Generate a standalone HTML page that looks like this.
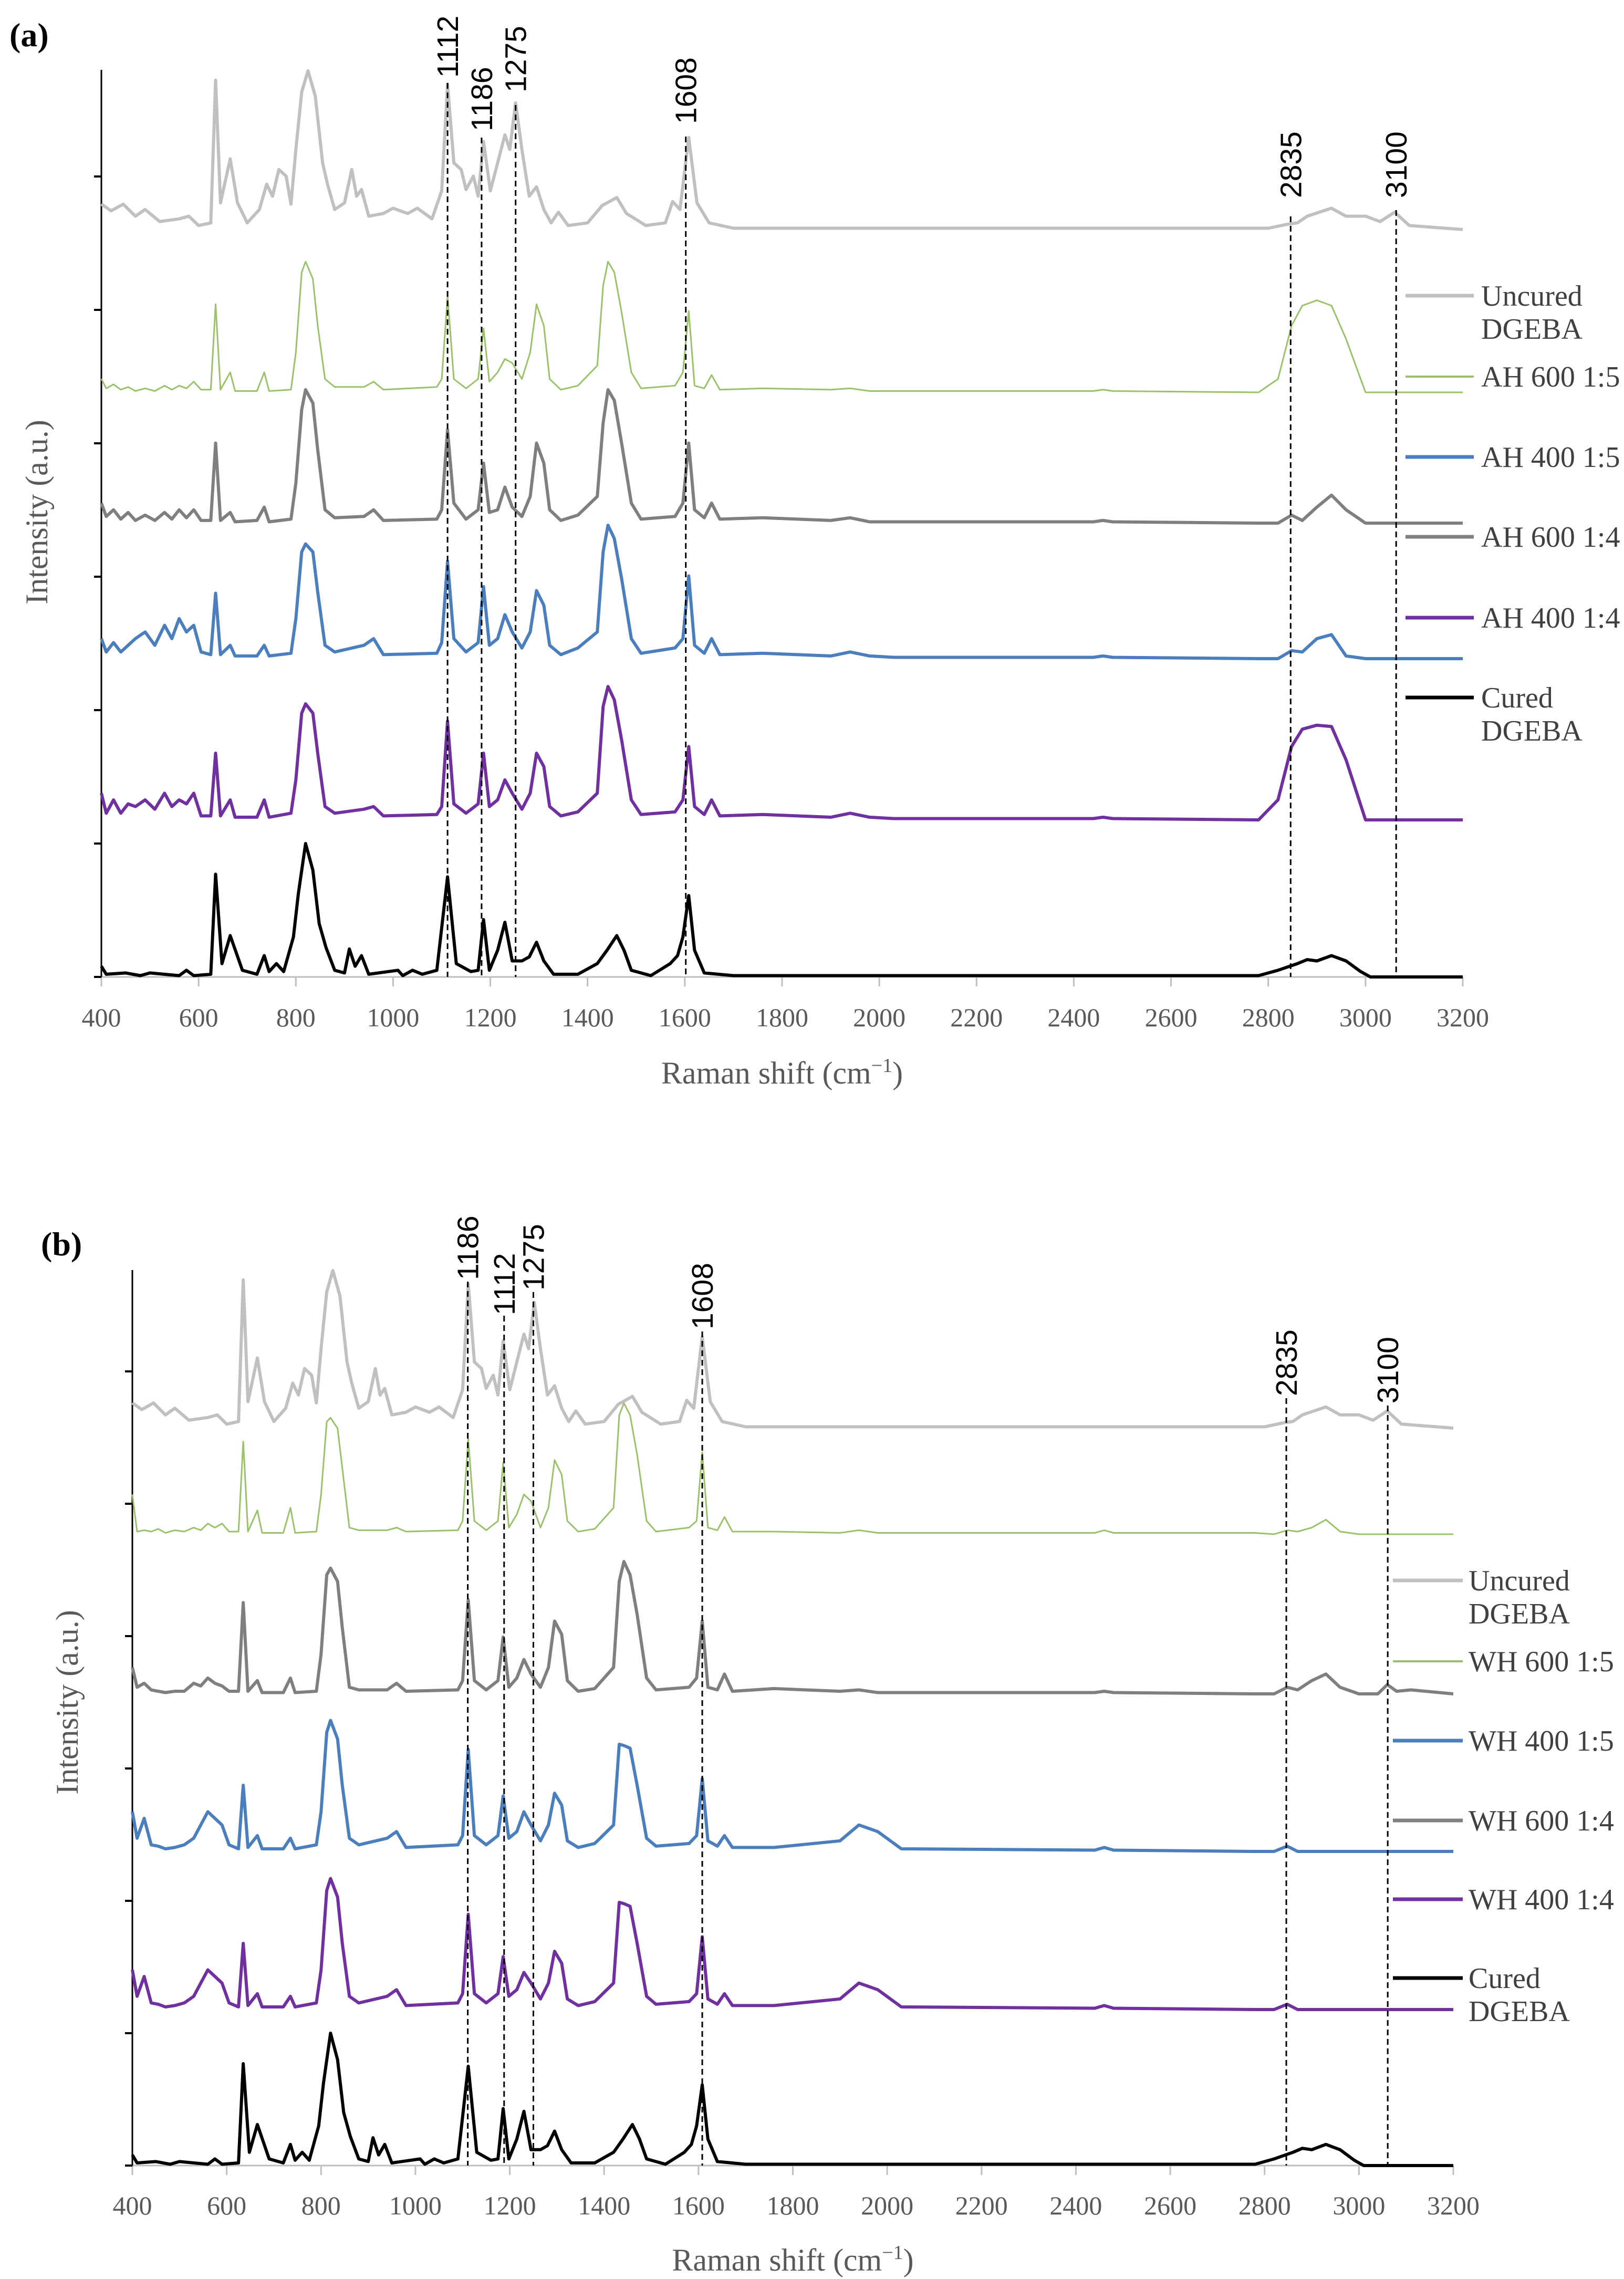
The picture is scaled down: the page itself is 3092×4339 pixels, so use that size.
<!DOCTYPE html>
<html><head><meta charset="utf-8"><title>Raman spectra</title>
<style>
html,body{margin:0;padding:0;background:#fff;}
svg{display:block;}
</style></head>
<body>
<svg id="chart" xmlns="http://www.w3.org/2000/svg" width="3092" height="4339" viewBox="0 0 3092 4339"></svg>
<script>
// ---- data ----
const xTicks = [400,600,800,1000,1200,1400,1600,1800,2000,2200,2400,2600,2800,3000,3200];
const xTickLabels = ["400","600","800","1000","1200","1400","1600","1800","2000","2200","2400","2600","2800","3000","3200"];
const uncuredShift = [400,420,445,470,490,520,560,580,600,625,635,645,665,680,700,725,740,752,765,780,790,800,812,825,840,855,865,880,900,915,925,935,950,980,1000,1030,1050,1080,1100,1112,1125,1140,1150,1165,1175,1186,1200,1215,1230,1240,1252,1265,1280,1295,1310,1325,1340,1360,1400,1430,1445,1460,1480,1520,1560,1575,1590,1608,1625,1650,1700,2800,2840,2860,2880,2930,2960,3000,3030,3060,3090,3200];
const uncuredVals = [.19,.14,.19,.1,.15,.06,.08,.1,.03,.05,1.12,.2,.53,.2,.05,.15,.34,.25,.45,.4,.19,.6,1.03,1.19,1.0,.5,.34,.15,.2,.45,.25,.3,.1,.12,.16,.12,.16,.08,.29,1.09,.5,.45,.3,.4,.25,.66,.29,.5,.71,.6,.95,.6,.25,.32,.15,.05,.13,.03,.05,.18,.21,.24,.12,.03,.05,.21,.15,.69,.2,.05,.01,.01,.04,.05,.1,.16,.1,.1,.06,.13,.03,0];
const curedShift = [400,410,450,480,500,560,575,590,625,635,648,665,690,720,735,745,760,775,795,805,820,835,848,862,880,900,910,922,935,950,1010,1020,1040,1060,1090,1112,1130,1160,1175,1186,1198,1215,1230,1245,1265,1280,1295,1310,1330,1380,1420,1440,1460,1475,1490,1530,1570,1585,1596,1608,1620,1640,1700,2780,2820,2860,2880,2900,2930,2960,2990,3010,3200];
const curedVals = [.08,.02,.03,.01,.03,.01,.05,.01,.02,.77,.1,.31,.05,.02,.16,.04,.1,.04,.3,.62,1.0,.8,.4,.22,.05,.03,.21,.08,.16,.02,.05,.01,.05,.02,.05,.75,.1,.04,.05,.43,.05,.2,.41,.12,.12,.15,.26,.12,.02,.02,.1,.2,.31,.2,.05,.01,.1,.16,.3,.61,.2,.03,.01,.01,.05,.1,.13,.12,.16,.12,.04,0,0];
const sampleShift = [400,410,425,440,455,470,490,510,530,545,560,575,590,605,625,635,645,665,675,720,735,745,790,800,812,820,835,845,860,880,940,960,980,1090,1100,1112,1125,1150,1175,1186,1198,1215,1230,1245,1265,1282,1295,1310,1322,1345,1380,1420,1432,1442,1455,1470,1490,1510,1580,1596,1608,1620,1640,1655,1672,1760,1900,1940,1980,2030,2440,2460,2480,2780,2820,2848,2870,2900,2930,2960,3000,3040,3060,3080,3110,3200];
const ah600_15 = [.1,.03,.06,.02,.04,.01,.03,.01,.05,.02,.05,.03,.08,.02,.02,.66,.02,.15,.01,.01,.15,.01,.02,.3,.9,.98,.85,.5,.1,.04,.04,.08,.02,.04,.1,.72,.1,.03,.1,.48,.08,.15,.25,.22,.1,.3,.66,.5,.1,.02,.05,.2,.8,.98,.9,.6,.15,.03,.05,.15,.61,.05,.03,.13,.02,.03,.02,.03,.01,.01,.01,.02,.01,0,.1,.5,.65,.69,.65,.4,0,0,0,0,0,0];
const ah600_14 = [.15,.05,.1,.03,.08,.02,.06,.02,.08,.03,.1,.04,.1,.02,.02,.6,.02,.08,.01,.02,.12,.01,.03,.3,.85,1.0,.9,.55,.1,.04,.05,.1,.02,.03,.1,.7,.15,.03,.1,.45,.08,.1,.27,.12,.05,.2,.6,.45,.1,.02,.06,.2,.75,1.0,.92,.6,.15,.03,.05,.15,.6,.1,.04,.15,.03,.04,.02,.04,.01,.01,.01,.02,.01,0,0,.06,.02,.12,.21,.1,0,0,0,0,0,0];
const ah400_15 = [.15,.05,.12,.05,.1,.15,.2,.1,.25,.15,.3,.2,.25,.05,.03,.49,.03,.1,.02,.02,.1,.02,.04,.3,.8,.86,.8,.5,.1,.05,.1,.15,.03,.04,.12,.73,.15,.05,.12,.54,.1,.15,.33,.2,.08,.2,.51,.4,.1,.03,.08,.2,.8,1.0,.9,.6,.15,.04,.08,.15,.62,.1,.04,.15,.03,.04,.02,.05,.02,.01,.01,.02,.01,0,0,.06,.05,.15,.18,.02,0,0,0,0,0,0];
const ah400_14 = [.2,.05,.15,.05,.12,.1,.15,.08,.2,.1,.15,.12,.2,.03,.03,.5,.03,.15,.02,.02,.15,.02,.05,.3,.8,.87,.8,.5,.1,.05,.08,.1,.03,.04,.1,.74,.12,.05,.12,.5,.1,.15,.3,.2,.08,.2,.5,.4,.1,.03,.06,.2,.85,1.0,.9,.6,.15,.04,.06,.15,.55,.1,.04,.15,.03,.04,.02,.05,.02,.01,.01,.02,.01,0,.15,.55,.68,.71,.7,.45,0,0,0,0,0,0];
const wh600_15 = [.3,.02,.03,.02,.04,.01,.03,.02,.05,.03,.08,.05,.08,.02,.02,.7,.02,.18,.01,.01,.2,.01,.02,.3,.85,.88,.8,.5,.05,.03,.03,.05,.02,.03,.1,.72,.1,.03,.1,.54,.05,.15,.3,.25,.05,.2,.56,.45,.1,.02,.04,.2,.9,.99,.9,.6,.1,.02,.05,.1,.62,.05,.03,.13,.02,.02,.01,.03,.01,.01,.01,.03,.01,.01,0,.03,.02,.05,.11,.02,0,0,0,0,0,0];
const wh600_14 = [.2,.05,.08,.03,.02,.01,.02,.02,.08,.06,.12,.08,.06,.02,.02,.69,.02,.1,.01,.01,.12,.01,.02,.3,.9,.95,.85,.5,.05,.03,.03,.08,.02,.03,.1,.71,.1,.03,.1,.43,.05,.12,.26,.15,.05,.2,.55,.45,.1,.02,.04,.2,.85,1.0,.9,.6,.12,.03,.05,.12,.55,.05,.03,.15,.02,.04,.02,.03,.01,.01,.01,.02,.01,0,0,.05,.03,.1,.15,.05,0,0,.07,.02,.03,0];
const wh400_15 = [.3,.1,.25,.05,.04,.02,.03,.05,.1,.2,.3,.25,.2,.05,.02,.5,.03,.12,.02,.02,.1,.02,.05,.3,.9,.99,.85,.5,.1,.05,.1,.15,.03,.05,.12,.77,.12,.05,.12,.42,.1,.15,.3,.2,.08,.2,.44,.35,.08,.03,.06,.2,.81,.8,.78,.5,.1,.04,.06,.12,.55,.08,.04,.12,.03,.03,.08,.2,.15,.02,.01,.03,.01,0,0,.04,0,0,0,0,0,0,0,0,0,0];
const wh400_14 = [.3,.1,.25,.05,.04,.02,.03,.05,.1,.2,.3,.25,.2,.05,.02,.5,.03,.12,.02,.02,.1,.02,.05,.3,.9,.99,.85,.5,.1,.05,.1,.15,.03,.05,.12,.72,.12,.05,.12,.4,.1,.15,.28,.2,.08,.2,.44,.35,.08,.03,.06,.2,.81,.8,.78,.5,.1,.04,.06,.12,.55,.08,.04,.12,.03,.03,.08,.2,.15,.02,.01,.03,.01,0,0,.04,0,0,0,0,0,0,0,0,0,0];
const peakMarksA = [1112,1182,1252,1602,2846,3063];
const peakLabelsA = ["1112","1186","1275","1608","2835","3100"];
const peakMarksB = [1111,1188,1250,1608,2846,3061];
const peakLabelsB = ["1186","1112","1275","1608","2835","3100"];

// ---- layout ----
const svg = document.getElementById('chart');
const NS = 'http://www.w3.org/2000/svg';
function mk(tag, attrs, parent){ const e=document.createElementNS(NS,tag); for(const k in attrs) e.setAttribute(k,attrs[k]); (parent||svg).appendChild(e); return e; }

const panels = [
 {id:'a', label:'(a)', lx:18, ly:88, x0:193, x1:2785, top:133, base:1860, unit:254, ytitleX:70, ytitleY:975,
  tickY:1938, titleY:2045, legLine:[2676,2806], legText:2820,
  series:[
   {name:'Uncured DGEBA', xs:uncuredShift, ys:uncuredVals, base:437, color:'#c0c0c0', w:6},
   {name:'AH 600 1:5', xs:sampleShift, ys:ah600_15, base:747, color:'#9bc26b', w:3},
   {name:'AH 600 1:4', xs:sampleShift, ys:ah600_14, base:996, color:'#7f7f7f', w:6},
   {name:'AH 400 1:5', xs:sampleShift, ys:ah400_15, base:1254, color:'#4a7ebd', w:6},
   {name:'AH 400 1:4', xs:sampleShift, ys:ah400_14, base:1561, color:'#7030a0', w:6},
   {name:'Cured DGEBA', xs:curedShift, ys:curedVals, base:1860, color:'#000000', w:6}],
  legend:[['Uncured','DGEBA',563,'#c0c0c0',6],['AH 600 1:5',null,717,'#9bc26b',3],['AH 400 1:5',null,870,'#4a7ebd',6],['AH 600 1:4',null,1022,'#7f7f7f',6],['AH 400 1:4',null,1176,'#7030a0',6],['Cured','DGEBA',1328,'#000000',6]],
  marks:peakMarksA, markLabels:peakLabelsA, markTops:[158,262,200,260,412,400], labelBottoms:[148,250,176,236,377,377]},
 {id:'b', label:'(b)', lx:78, ly:2390, x0:252, x1:2767, top:2418, base:4123, unit:252, ytitleX:128, ytitleY:3241,
  tickY:4200, titleY:4305, legLine:[2652,2785], legText:2796,
  series:[
   {name:'Uncured DGEBA', xs:uncuredShift, ys:uncuredVals, base:2719, color:'#c0c0c0', w:6},
   {name:'WH 600 1:5', xs:sampleShift, ys:wh600_15, base:2921, color:'#9bc26b', w:3},
   {name:'WH 600 1:4', xs:sampleShift, ys:wh600_14, base:3225, color:'#7f7f7f', w:6},
   {name:'WH 400 1:5', xs:sampleShift, ys:wh400_15, base:3525, color:'#4a7ebd', w:6},
   {name:'WH 400 1:4', xs:sampleShift, ys:wh400_14, base:3826, color:'#7030a0', w:6},
   {name:'Cured DGEBA', xs:curedShift, ys:curedVals, base:4123, color:'#000000', w:6}],
  legend:[['Uncured','DGEBA',3009,'#c0c0c0',6],['WH 600 1:5',null,3163,'#9bc26b',3],['WH 400 1:5',null,3314,'#4a7ebd',6],['WH 600 1:4',null,3466,'#7f7f7f',6],['WH 400 1:4',null,3616,'#7030a0',6],['Cured','DGEBA',3766,'#000000',6]],
  marks:peakMarksB, markLabels:peakLabelsB, markTops:[2440,2505,2460,2535,2662,2676], labelBottoms:[2437,2504,2457,2531,2658,2672]}
];

panels.forEach(p=>{
  const g = mk('g',{});
  
  
  const xs = v => p.x0 + (v-400)/2800*(p.x1-p.x0);

  const pl = mk('text',{x:p.lx,y:p.ly,'font-family':'Liberation Serif, serif','font-size':64,'font-weight':'bold',fill:'#000'},g);
  pl.textContent = p.label;
  
  

  // x axis
  const xa = mk('line',{x1:p.x0,y1:p.base,x2:p.x1,y2:p.base,stroke:'#bfbfbf','stroke-width':3},g);
  
  
  xTicks.forEach((t,i)=>{
    const tk = mk('line',{x1:xs(t),y1:p.base,x2:xs(t),y2:p.base+18,stroke:'#bfbfbf','stroke-width':3},g);
    
    
    const tl = mk('text',{x:xs(t),y:p.tickY+16,'text-anchor':'middle','font-family':'Liberation Serif, serif','font-size':50,fill:'#595959'},g);
    tl.textContent = xTickLabels[i];
    
    
  });
  const xt = mk('text',{x:(p.x0+p.x1)/2,y:p.titleY+18,'text-anchor':'middle','font-family':'Liberation Serif, serif','font-size':60,fill:'#595959'},g);
  xt.innerHTML = 'Raman shift (cm<tspan dy="-22" font-size="38">−1</tspan><tspan dy="22">)</tspan>';
  
  

  // y axis
  const ya = mk('line',{x1:p.x0,y1:p.top,x2:p.x0,y2:p.base,stroke:'#000','stroke-width':3},g);
  
  
  for(let k=0;k<=6;k++){
    const y = p.base - k*p.unit;
    const tk = mk('line',{x1:p.x0-14,y1:y,x2:p.x0,y2:y,stroke:'#000','stroke-width':4},g);
    
    
  }
  const yt = mk('text',{x:p.ytitleX,y:p.ytitleY,'text-anchor':'middle','font-family':'Liberation Serif, serif','font-size':60,fill:'#595959',transform:`rotate(-90 ${p.ytitleX} ${p.ytitleY})`,dy:20},g);
  yt.textContent = 'Intensity (a.u.)';
  
  

  // series
  p.series.forEach(s=>{
    const pts = s.xs.map((x,i)=> xs(x).toFixed(1)+','+(s.base - s.ys[i]*p.unit).toFixed(1)).join(' ');
    const ln = mk('polyline',{points:pts,fill:'none',stroke:s.color,'stroke-width':s.w,'stroke-linejoin':'round'},g);
    
    
  });

  // peak marker lines and labels
  p.marks.forEach((m,i)=>{
    const x = xs(m);
    const dl = mk('line',{x1:x,y1:p.markTops[i],x2:x,y2:p.base,stroke:'#000','stroke-width':3,'stroke-dasharray':'11 7'},g);
    
    
    const yb = p.labelBottoms[i];
    const tl = mk('text',{x:x,y:yb,'font-family':'Liberation Sans, sans-serif','font-size':57,fill:'#000',transform:`rotate(-90 ${x} ${yb})`,dy:20},g);
    tl.textContent = p.markLabels[i];
    
    
  });

  // legend
  p.legend.forEach(e=>{
    const lg = mk('g',{},g);
    
    
    mk('line',{x1:p.legLine[0],y1:e[2],x2:p.legLine[1],y2:e[2],stroke:e[3],'stroke-width':e[4]+1},lg);
    const t1 = mk('text',{x:p.legText,y:e[2]+19,'font-family':'Liberation Serif, serif','font-size':56,fill:'#404040'},lg);
    t1.textContent = e[0];
    if(e[1]){
      const t2 = mk('text',{x:p.legText,y:e[2]+82,'font-family':'Liberation Serif, serif','font-size':56,fill:'#404040'},lg);
      t2.textContent = e[1];
    }
  });
});
</script>
</body></html>
